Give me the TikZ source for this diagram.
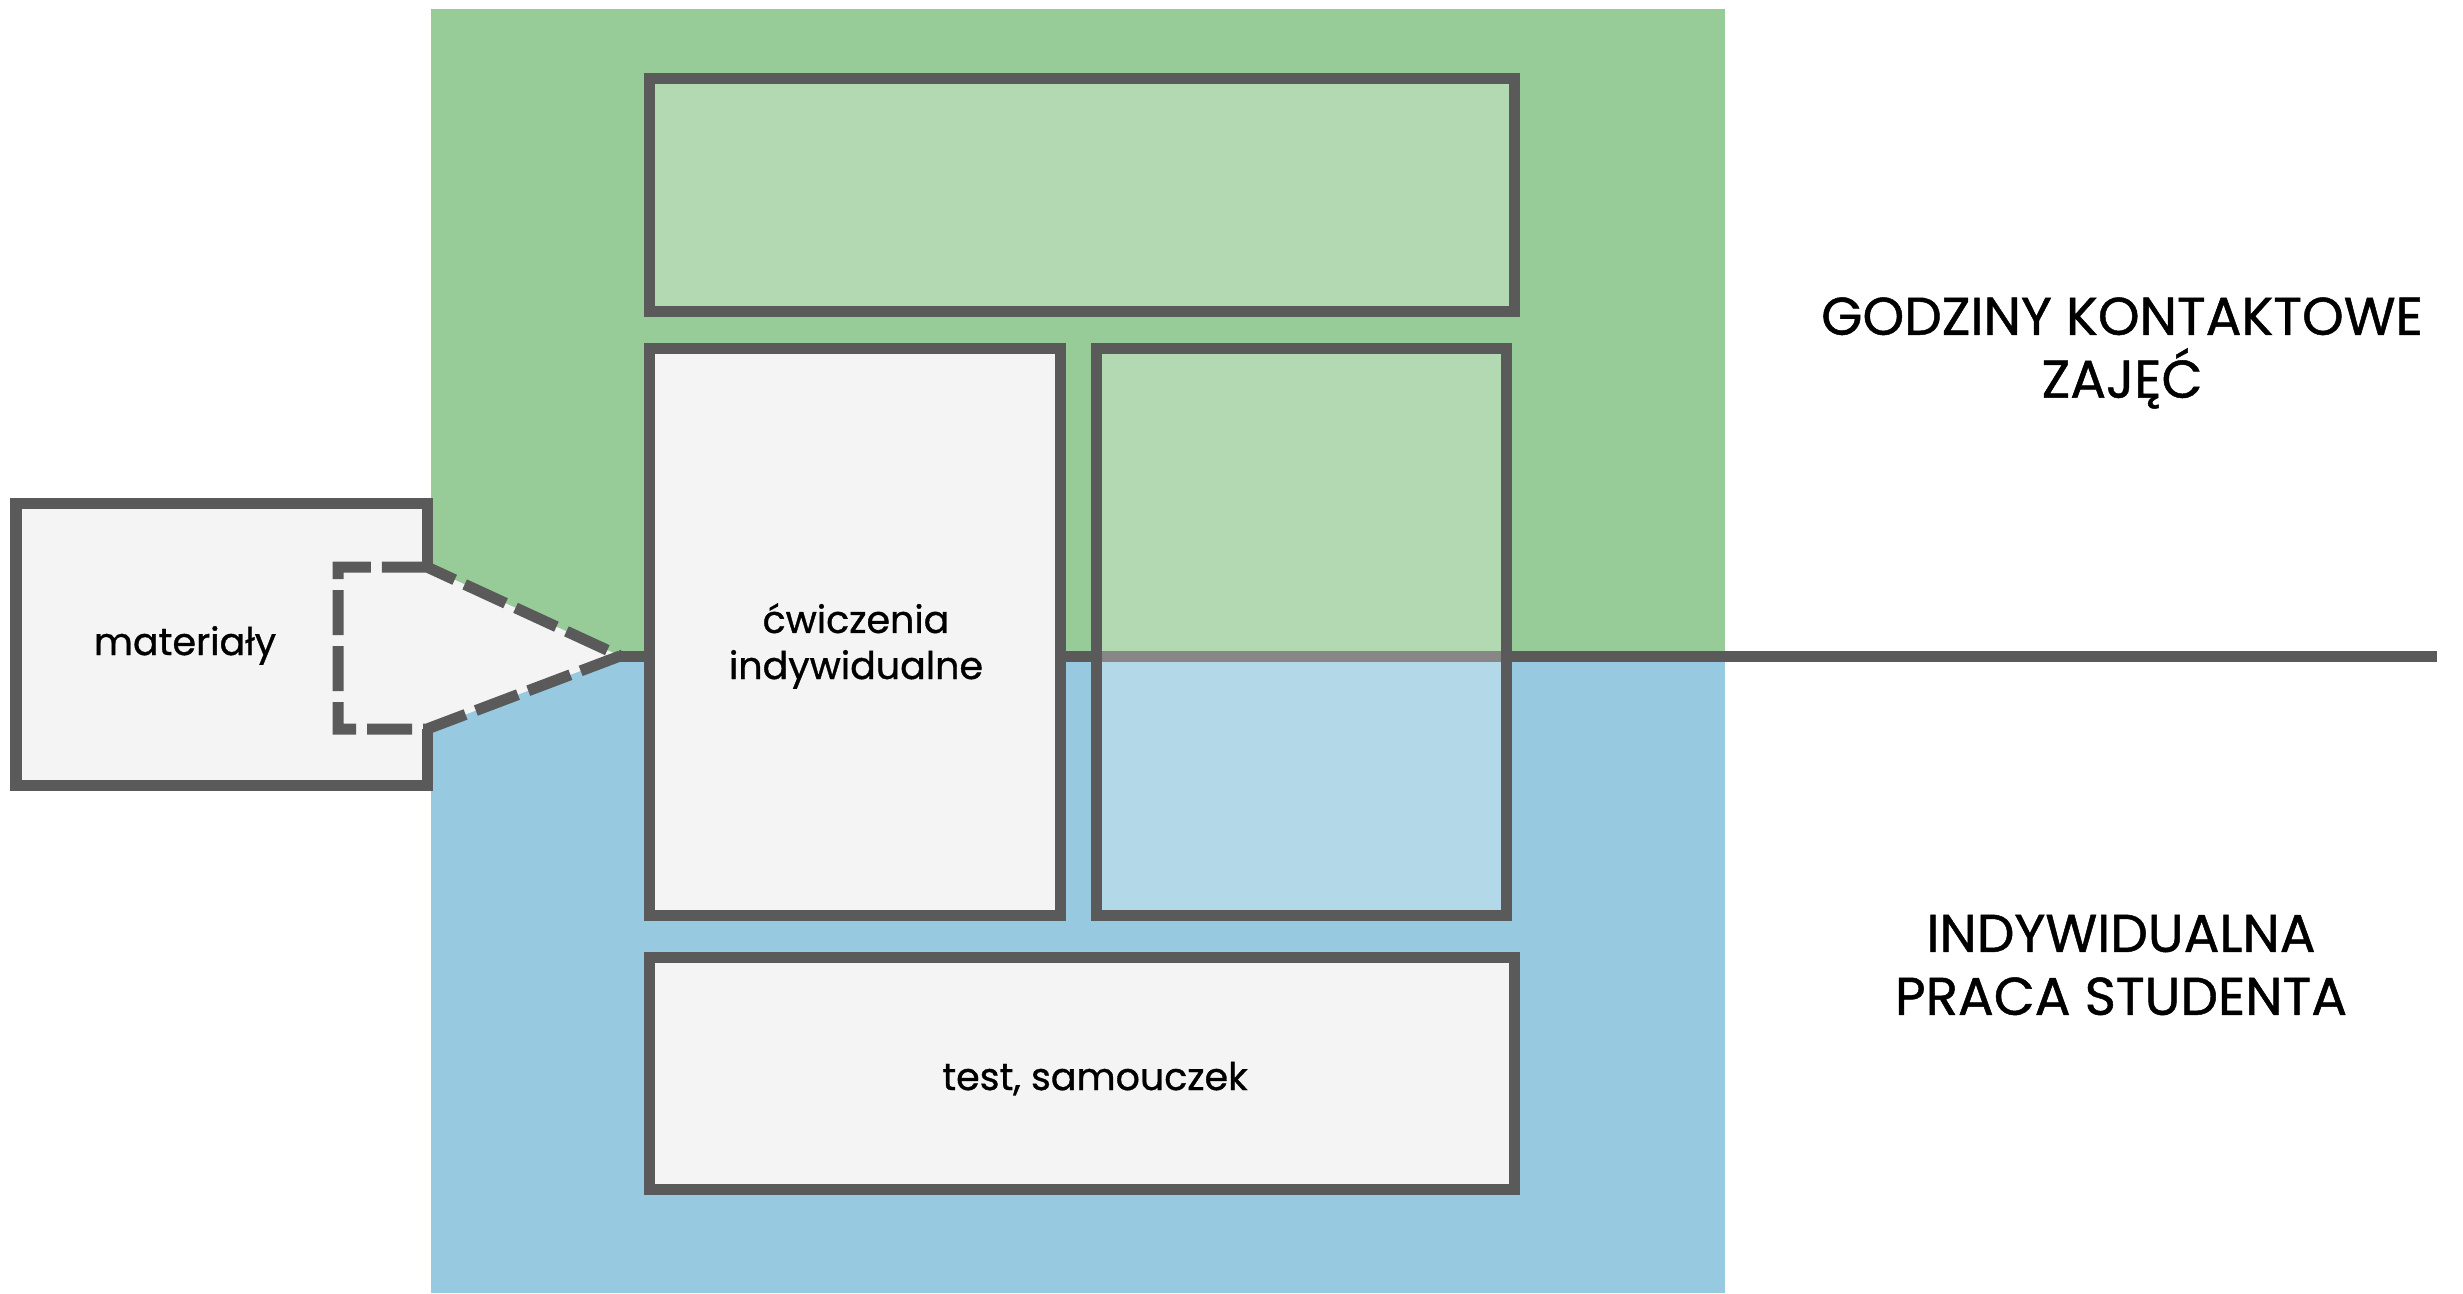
\documentclass[tikz,border=0pt]{standalone}
\usepackage{fontspec}
\setmainfont{Poppins}[FakeBold=0.9]
\definecolor{greenbg}{HTML}{97CB97}
\definecolor{bluebg}{HTML}{97C9E0}
\definecolor{lineg}{HTML}{5A5A5A}
\definecolor{boxf}{HTML}{F4F4F4}
\begin{document}
\begin{tikzpicture}[x=0.01cm,y=-0.01cm,line join=miter,
  panel/.style={rectangle,draw=none,inner sep=0pt,outer sep=0pt},
  edge/.style={draw=lineg,line width=0.11cm},
  boxnode/.style={rectangle,draw=lineg,line width=0.11cm,inner sep=0pt,outer sep=0pt},
  glassbox/.style={boxnode,fill=white,fill opacity=0.28,draw opacity=1},
  solidbox/.style={boxnode,fill=boxf},
  dashedge/.style={edge,dash pattern=on 0.45cm off 0.11cm},
  lbl/.style={inner sep=0pt,text=black,font=\fontsize{10.8pt}{13.1pt}\selectfont},
  biglbl/.style={inner sep=0pt,text=black,align=center,font=\fontsize{15.1pt}{17.9pt}\selectfont}]
\useasboundingbox (0,0) rectangle (2463,1293);
% background panels
\node[panel,fill=greenbg,anchor=north west,minimum width=12.93cm,minimum height=6.47cm] (green) at (431,9) {};
\node[panel,fill=bluebg,anchor=north west,minimum width=12.93cm,minimum height=6.37cm] (blue) at (431,656) {};
% divider line
\coordinate (tip) at (620,656);
\coordinate (lineend) at (2437,656);
\draw[edge] (tip) -- (lineend);
% materialy shape
\fill[boxf] (16,503) -- (427,503) -- (427,567) -- (tip) -- (427,729) -- (427,785) -- (16,785) -- cycle;
\draw[edge] (427,567) -- (427,503) -- (16,503) -- (16,785) -- (427,785) -- (427,729);
\draw[dashedge] (427,567) -- (338,567) -- (338,729) -- (427,729) -- (tip) -- cycle;
% boxes
\node[glassbox,minimum width=8.65cm,minimum height=2.33cm] (top) at (1082,195) {};
\node[solidbox,minimum width=4.11cm,minimum height=5.67cm] (cw) at (855,632) {};
\node[glassbox,minimum width=4.10cm,minimum height=5.67cm] (rb) at (1301.5,632) {};
\node[solidbox,minimum width=8.65cm,minimum height=2.32cm] (test) at (1082,1073.5) {};
% texts
\node[lbl,anchor=base] (mat) at (185,655) {materiały};
\node[lbl,align=center] (cwtxt) at (856,646) {ćwiczenia\\indywidualne};
\node[lbl,anchor=base] (testtxt) at (1095,1090) {test, samouczek};
\node[biglbl] (godz) at (2122,353) {GODZINY KONTAKTOWE\\ZAJĘĆ};
\node[biglbl] (indyw) at (2121,965) {INDYWIDUALNA\\PRACA STUDENTA};
\end{tikzpicture}
\end{document}
